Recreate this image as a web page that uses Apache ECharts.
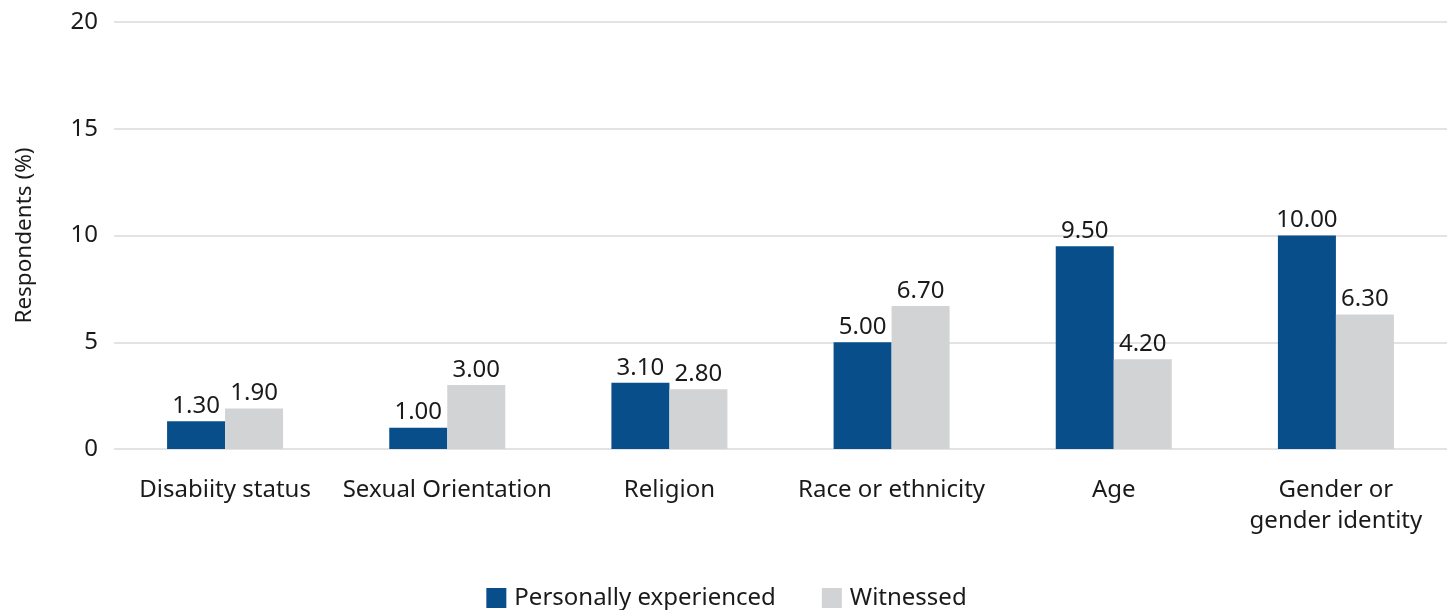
<!DOCTYPE html>
<html>
<head>
<meta charset="utf-8">
<script src="https://cdn.jsdelivr.net/npm/echarts@6/dist/echarts.min.js"></script>
<style>
  html, body { margin: 0; padding: 0; background: #ffffff; }
  #chart { width: 1453px; height: 610px; }
</style>
</head>
<body>
<div id="chart"></div>
<script>
// Categories of discrimination and share of respondents (%)
const categories = ['Disabiity status', 'Sexual Orientation', 'Religion', 'Race or ethnicity', 'Age', 'Gender or\ngender identity'];
const personallyExperienced = [1.3, 1.0, 3.1, 5.0, 9.5, 10.0];
const witnessed = [1.9, 3.0, 2.8, 6.7, 4.2, 6.3];
const seriesNames = ['Personally experienced', 'Witnessed'];

const FONT = '"Noto Sans"';
const TEXT = '#1a1a1a';

const labelStyle = {
  show: true,
  position: 'top',
  distance: 3,
  color: TEXT,
  fontFamily: FONT,
  fontSize: 24,
  formatter: p => p.value.toFixed(2)
};

const chart = echarts.init(document.getElementById('chart'));
chart.setOption({
  animation: false,
  textStyle: { fontFamily: FONT },
  grid: { left: 114, right: 6, top: 22, bottom: 161, containLabel: false },
  legend: {
    top: 581,
    left: 'center',
    itemWidth: 20,
    itemHeight: 20,
    itemGap: 46,
    icon: 'rect',
    textStyle: { color: TEXT, fontFamily: FONT, fontSize: 24, padding: [0, 0, 0, 3] },
    data: seriesNames
  },
  xAxis: {
    type: 'category',
    data: categories,
    axisLine: { show: false },
    axisTick: { show: false },
    axisLabel: {
      color: TEXT,
      fontFamily: FONT,
      fontSize: 24,
      margin: 26,
      lineHeight: 31,
      interval: 0
    }
  },
  yAxis: {
    type: 'value',
    min: 0,
    max: 20,
    interval: 5,
    name: 'Respondents (%)',
    nameLocation: 'middle',
    nameGap: 78,
    nameTextStyle: { color: TEXT, fontFamily: FONT, fontSize: 22.5 },
    axisLine: { show: false },
    axisTick: { show: false },
    axisLabel: { color: TEXT, fontFamily: FONT, fontSize: 24, margin: 16 },
    splitLine: { lineStyle: { color: '#e3e3e3', width: 2 } }
  },
  series: [
    {
      name: seriesNames[0],
      type: 'bar',
      data: personallyExperienced,
      barWidth: 58,
      barGap: '0%',
      itemStyle: { color: '#084e8b' },
      label: labelStyle
    },
    {
      name: seriesNames[1],
      type: 'bar',
      data: witnessed,
      barWidth: 58,
      barGap: '0%',
      itemStyle: { color: '#d2d3d5' },
      label: labelStyle
    }
  ]
});
</script>
</body>
</html>
